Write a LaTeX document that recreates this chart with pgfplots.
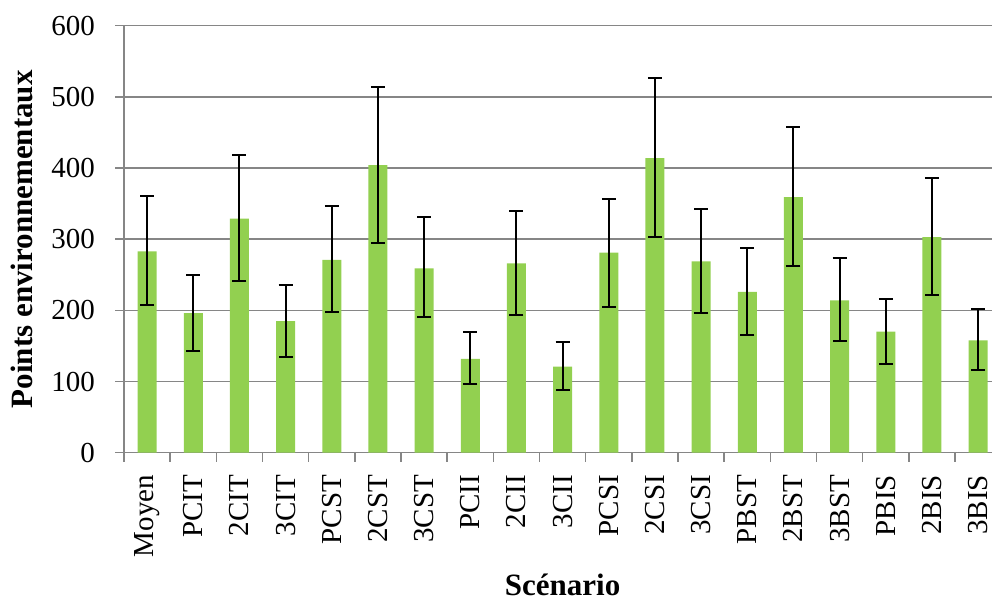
\documentclass[border=0pt]{standalone}
\usepackage{pgfplots}
\pgfplotsset{compat=1.18}
\usepackage{pgfplotstable}
\usepackage{fontspec}
\setmainfont{Liberation Serif}
\definecolor{bargreen}{HTML}{92D050}
\definecolor{axgray}{HTML}{868686}
\pgfplotstableread{
x y ep em
0 283 78 76
1 196 54 53
2 329 90 88
3 185 50 50
4 271 75 73
5 404 110 109
6 259 72 69
7 132 37 35
8 266 73 72
9 121 34 33
10 281 76 76
11 414 113 111
12 269 74 73
13 226 62 61
14 359 98 97
15 214 59 57
16 170 46 46
17 303 83 81
18 158 44 42
}\datatable
\begin{document}
\begin{tikzpicture}
\begin{axis}[
  scale only axis,
  width=868pt, height=427pt,
  xmin=-0.5, xmax=18.3,
  ymin=0, ymax=600,
  axis x line*=bottom, axis y line*=left,
  axis line style={axgray, line width=1.5pt, -},
  ytick={0,100,...,600},
  ymajorgrids,
  grid style={axgray, line width=1.5pt},
  xtick={0,...,18},
  xticklabels={Moyen,PCIT,2CIT,3CIT,PCST,2CST,3CST,PCII,2CII,3CII,PCSI,2CSI,3CSI,PBST,2BST,3BST,PBIS,2BIS,3BIS},
  minor xtick={-0.5,0.5,...,18.5},
  tick align=outside,
  major tick length=9pt,
  minor tick length=9pt,
  major x tick style={draw=none},
  minor x tick style={axgray, line width=1.5pt},
  ytick style={axgray, line width=1.5pt},
  /pgf/number format/assume math mode=true,
  tick label style={font=\fontsize{29}{34}\selectfont, black},
  xticklabel style={rotate=90, anchor=east, inner sep=0pt},
  xticklabel shift=13pt,
  yticklabel style={inner sep=0pt},
  yticklabel shift=20pt,
  xlabel={Scénario},
  ylabel={Points environnementaux},
  label style={font=\fontsize{31}{36}\selectfont\bfseries},
  xlabel style={at={(axis cs:9,0)}, anchor=base, yshift=-143pt, inner sep=0pt},
  ylabel style={at={(ticklabel cs:0.5,18pt)}, anchor=near ticklabel, inner sep=0pt},
  clip=false,
]
\addplot[ybar, bar width=19pt, fill=bargreen, draw=none,
  error bars/.cd, y dir=both, y explicit,
  error bar style={black, line width=2pt},
  error mark options={black, rotate=90, mark size=7pt, line width=2pt}]
  table[x=x, y=y, y error plus=ep, y error minus=em] {\datatable};
\end{axis}
\pgfresetboundingbox
\path (current axis.south west) ++(-124pt,-151.3pt) rectangle ++(992pt,604pt);
\end{tikzpicture}
\end{document}
